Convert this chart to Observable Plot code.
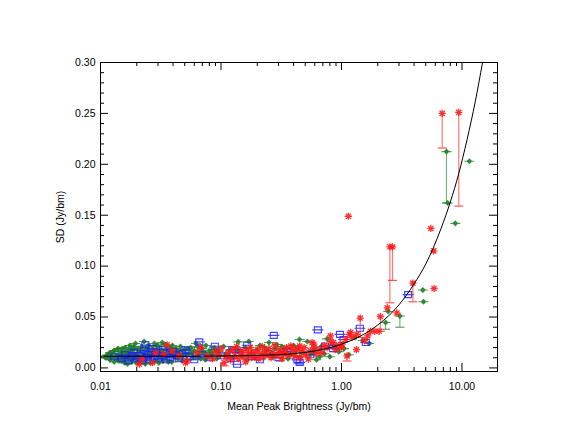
<!DOCTYPE html>
<html>
<head>
<meta charset="utf-8">
<script src="https://cdn.jsdelivr.net/npm/d3@7"></script>
<script src="https://cdn.jsdelivr.net/npm/@observablehq/plot@0.6"></script>
<style>
  html, body { margin: 0; padding: 0; background: #fff; }
  #chart svg { display: block; }
</style>
</head>
<body>
<div id="chart"></div>
<script>
// ---- tick values and labels ----
const xMajor = [0.01, 0.1, 1, 10];
const xLabels = ["0.01", "0.10", "1.00", "10.00"];
const xMinor = [0.02,0.03,0.04,0.05,0.06,0.07,0.08,0.09,
                0.2,0.3,0.4,0.5,0.6,0.7,0.8,0.9,
                2,3,4,5,6,7,8,9];
const yMajor = [0, 0.05, 0.10, 0.15, 0.20, 0.25, 0.30];
const yLabels = ["0.00","0.05","0.10","0.15","0.20","0.25","0.30"];
const yMinor = [0.01,0.02,0.03,0.04,0.06,0.07,0.08,0.09,0.11,0.12,0.13,0.14,
                0.16,0.17,0.18,0.19,0.21,0.22,0.23,0.24,0.26,0.27,0.28,0.29];

// ---- series: [mean peak brightness, SD] ----
const greenPts = [
  [0.0110,0.010],[0.0115,0.013],[0.012,0.008],[0.012,0.015],[0.0125,0.011],[0.013,0.006],[0.013,0.017],
  [0.0135,0.012],[0.014,0.009],[0.014,0.019],[0.0145,0.014],[0.015,0.007],[0.015,0.016],[0.0155,0.011],
  [0.016,0.020],[0.016,0.005],[0.0165,0.013],[0.017,0.009],[0.017,0.017],[0.0175,0.022],[0.018,0.012],
  [0.018,0.006],[0.0185,0.015],[0.019,0.010],[0.019,0.019],[0.0195,0.024],[0.020,0.008],[0.020,0.014],
  [0.021,0.017],[0.021,0.011],[0.022,0.021],[0.022,0.006],[0.023,0.013],[0.023,0.026],[0.024,0.009],
  [0.024,0.018],[0.025,0.015],[0.025,0.022],[0.026,0.011],[0.026,0.005],[0.027,0.019],[0.028,0.013],
  [0.028,0.024],[0.029,0.008],[0.030,0.016],[0.030,0.021],[0.031,0.011],[0.032,0.018],[0.033,0.007],
  [0.033,0.014],[0.034,0.023],[0.035,0.010],[0.036,0.017],[0.037,0.013],[0.038,0.020],[0.039,0.006],
  [0.040,0.015],[0.041,0.011],[0.042,0.019],[0.044,0.009],[0.045,0.016],[0.046,0.021],[0.048,0.012],
  [0.050,0.018],[0.052,0.008],[0.054,0.014],[0.056,0.020],[0.058,0.011],[0.060,0.017],[0.062,0.024],
  [0.065,0.013],[0.068,0.009],[0.070,0.019],[0.072,0.015],[0.075,0.022],[0.078,0.011],[0.080,0.017],
  [0.085,0.013],[0.088,0.020],[0.092,0.009],[0.095,0.016],[0.098,0.012],
  [0.0112,0.012],[0.0118,0.009],[0.0122,0.014],[0.0128,0.016],[0.0132,0.010],[0.0138,0.018],
  [0.0142,0.007],[0.0148,0.012],[0.0152,0.019],[0.0158,0.009],[0.0162,0.015],[0.0168,0.004],
  [0.0172,0.012],[0.0178,0.019],[0.0182,0.009],[0.0188,0.021],[0.0192,0.013],[0.0198,0.005],
  [0.0205,0.019],[0.0215,0.009],[0.0225,0.016],[0.0235,0.004],[0.0245,0.021],[0.0255,0.012],
  [0.0265,0.017],[0.0275,0.007],[0.0285,0.016],[0.0295,0.022],[0.0305,0.005],[0.0315,0.014],
  [0.0325,0.025],[0.0345,0.012],[0.0355,0.019],[0.0365,0.006],[0.0385,0.016],[0.0395,0.022],
  [0.0425,0.013],[0.0435,0.017],[0.0475,0.007],[0.0495,0.014],[0.053,0.019],[0.057,0.015],
  [0.061,0.010],[0.064,0.021],[0.069,0.016],[0.074,0.008],[0.082,0.015],[0.090,0.018],
  [0.105,0.021],[0.11,0.014],[0.12,0.018],[0.125,0.010],[0.139,0.0256],[0.14,0.016],[0.15,0.012],
  [0.16,0.020],[0.17,0.026],[0.18,0.015],[0.19,0.010],[0.20,0.018],[0.21,0.022],[0.22,0.013],
  [0.24,0.017],[0.25,0.025],[0.27,0.011],[0.28,0.019],[0.31,0.015],[0.32,0.021],[0.34,0.016],
  [0.36,0.009],[0.38,0.013],[0.40,0.022],[0.42,0.017],[0.448,0.028],[0.45,0.011],[0.48,0.015],
  [0.52,0.026],[0.55,0.013],[0.60,0.018],[0.62,0.008],[0.68,0.021],[0.72,0.014],[0.76,0.0285],
  [0.80,0.011],[0.85,0.023],[0.95,0.016],[1.05,0.019],[1.15,0.013],[1.3,0.030],[1.5,0.027],
  [0.115,0.012],[0.135,0.020],[0.165,0.008],[0.23,0.020],[0.26,0.014],[0.29,0.023],[0.35,0.019],
  [0.44,0.020],[0.58,0.015],[0.66,0.011],[0.9,0.020],
  [1.7,0.024],[2.32,0.0446],[2.44,0.0554],[3.05,0.051],[4.73,0.0765],[4.79,0.065],
  [7.43,0.2125],[7.6,0.162],[8.8,0.142],[11.5,0.203]
];
const bluePts = [
  [0.013,0.011],[0.015,0.009],[0.016,0.013],[0.017,0.007],[0.018,0.011],[0.019,0.015],[0.020,0.009],
  [0.021,0.012],[0.022,0.007],[0.023,0.017],[0.024,0.010],[0.0236,0.0226],[0.025,0.013],[0.026,0.008],
  [0.027,0.019],[0.028,0.011],[0.029,0.015],[0.030,0.009],[0.032,0.012],[0.033,0.018],[0.035,0.008],
  [0.036,0.014],[0.038,0.010],[0.040,0.016],[0.042,0.012],[0.045,0.009],[0.048,0.014],[0.0508,0.0177],
  [0.055,0.011],[0.060,0.008],[0.066,0.0256],[0.070,0.013],[0.080,0.010],[0.089,0.0213],[0.10,0.012],
  [0.12,0.009],[0.124,0.018],[0.136,0.0036],[0.14,0.015],[0.165,0.0223],[0.18,0.011],[0.21,0.008],
  [0.25,0.014],[0.274,0.032],[0.30,0.010],[0.35,0.016],[0.43,0.0079],[0.45,0.0055],[0.55,0.013],
  [0.636,0.0374],[0.73,0.0216],[0.85,0.019],[0.97,0.033],[1.04,0.028],[1.42,0.039],[1.59,0.025],
  [3.57,0.072]
];
const redPts = [
  [0.021,0.0036],[0.022,0.0086],[0.027,0.0052],[0.0286,0.015],[0.0335,0.0135],[0.0357,0.0226],
  [0.0393,0.0167],[0.0447,0.0118],[0.0508,0.0052],[0.0524,0.0069],[0.0634,0.015],[0.068,0.020],
  [0.077,0.0118],[0.085,0.009],[0.09,0.016],[0.095,0.013],[0.100,0.019],[0.106,0.0052],[0.11,0.011],
  [0.115,0.015],[0.12,0.008],[0.125,0.018],[0.13,0.012],[0.135,0.021],[0.14,0.009],[0.145,0.014],
  [0.15,0.017],[0.155,0.011],[0.16,0.006],[0.165,0.0167],[0.17,0.013],[0.175,0.020],[0.18,0.010],
  [0.185,0.015],[0.19,0.012],[0.20,0.018],[0.205,0.009],[0.21,0.014],[0.22,0.021],[0.225,0.011],
  [0.23,0.016],[0.24,0.013],[0.25,0.019],[0.26,0.010],[0.27,0.015],[0.28,0.022],[0.29,0.012],
  [0.30,0.015],[0.31,0.018],[0.32,0.009],[0.33,0.014],[0.34,0.015],[0.35,0.020],[0.36,0.012],
  [0.38,0.0216],[0.39,0.018],[0.40,0.014],[0.41,0.0118],[0.43,0.019],[0.45,0.0216],[0.45,0.010],
  [0.47,0.016],[0.49,0.020],[0.50,0.013],[0.53,0.0086],[0.55,0.017],[0.57,0.025],[0.59,0.0233],
  [0.59,0.020],[0.62,0.014],[0.65,0.018],[0.69,0.015],[0.72,0.022],[0.76,0.020],[0.81,0.0315],
  [0.81,0.026],[0.86,0.025],[0.89,0.018],[0.95,0.022],[1.0,0.020],[1.01,0.0233],[1.08,0.028],
  [1.11,0.0118],[1.16,0.033],[1.19,0.035],[1.22,0.030],[1.33,0.018],[1.34,0.033],[1.43,0.049],
  [1.55,0.0266],[1.65,0.0315],[1.74,0.036],[1.89,0.036],[2.05,0.036],[2.1,0.0505],[2.4,0.059],
  [2.88,0.054],[1.14,0.149],[2.52,0.119],[2.65,0.119],[3.91,0.0833],[5.51,0.137],[5.83,0.115],
  [5.86,0.078],[6.85,0.250],[9.4,0.251]
];

// ---- one-sided error bars: [x, top, bottom] ----
const greenErr = [[7.43,0.2125,0.162],[3.05,0.051,0.040],[0.31,0.015,0.0069],[0.0147,0.014,0.007],[2.32,0.0446,0.038]];
const blueErr  = [[0.45,0.0079,0.004]];
const redErr   = [[1.43,0.049,0.030],[2.1,0.0505,0.036],[1.11,0.0118,0.0068],[2.52,0.119,0.064],
                  [2.65,0.119,0.086],[3.91,0.0833,0.065],[6.85,0.250,0.216],[9.4,0.251,0.159],
                  [0.106,0.0052,0.002]];

// ---- fitted curve ----
const fitX = [0.01,0.05,0.1,0.2,0.3,0.5,0.7,1,1.5,2,3,4,5,6.7,8,9.4,11,12.9,14.8];
const fitY = [0.0115,0.0115,0.0117,0.0123,0.0130,0.0153,0.0182,0.0233,0.0325,0.0422,0.0620,0.0825,
              0.102,0.137,0.163,0.191,0.224,0.262,0.300];

// ---- rendering ----
const W = 572, H = 442, mL = 100, mR = 75, mT = 62, mB = 71;
const innerW = W - mL - mR, innerH = H - mT - mB;
const GREEN = "#23802a", BLUE = "#1f1fff", RED = "#ff1a1a";

const capSym = {draw(c){ c.moveTo(-4.5,0); c.lineTo(4.5,0); }};
const greenSym = {draw(c){ c.moveTo(-5,0); c.lineTo(5,0);
  c.moveTo(0,-2.3); c.lineTo(2.3,0); c.lineTo(0,2.3); c.lineTo(-2.3,0); c.closePath(); }};
const blueSym = {draw(c){ c.rect(-3.5,-3,7,6); c.moveTo(-5.5,0); c.lineTo(5.5,0); }};
const redSym = {draw(c){ const r = 3.6, d = 2.6;
  c.moveTo(-r,0); c.lineTo(r,0); c.moveTo(0,-r); c.lineTo(0,r);
  c.moveTo(-d,-d); c.lineTo(d,d); c.moveTo(-d,d); c.lineTo(d,-d); }};

const fit = fitX.map((x, i) => ({x, y: fitY[i]}));
const toObj = p => ({x: p[0], y: p[1]});
const toErr = e => ({x: e[0], top: e[1], bottom: e[2]});

function errMarks(errs, color) {
  const data = errs.map(toErr);
  return [
    Plot.ruleX(data, {x: "x", y1: "bottom", y2: "top", stroke: color, strokeOpacity: 0.6, strokeWidth: 1.2}),
    Plot.dot(data, {x: "x", y: "bottom", symbol: capSym, stroke: color, strokeOpacity: 0.75, fill: "none", strokeWidth: 1.2})
  ];
}

const tickStyle = {stroke: "black", strokeWidth: 1};
const chart = Plot.plot({
  width: W, height: H,
  marginLeft: mL, marginRight: mR, marginTop: mT, marginBottom: mB,
  style: {fontFamily: "'Liberation Sans', Arial, Helvetica, sans-serif", fontSize: "10.5px", color: "black", background: "white"},
  x: {type: "log", domain: [0.01, 19.7]},
  y: {domain: [-0.0035, 0.30]},
  marks: [
    // inward ticks on all four sides
    Plot.tickX(xMajor, {x: d => d, insetTop: innerH - 8, ...tickStyle}),
    Plot.tickX(xMajor, {x: d => d, insetBottom: innerH - 8, ...tickStyle}),
    Plot.tickX(xMinor, {x: d => d, insetTop: innerH - 4, ...tickStyle}),
    Plot.tickX(xMinor, {x: d => d, insetBottom: innerH - 4, ...tickStyle}),
    Plot.tickY(yMajor, {y: d => d, insetRight: innerW - 8, ...tickStyle}),
    Plot.tickY(yMajor, {y: d => d, insetLeft: innerW - 8, ...tickStyle}),
    Plot.tickY(yMinor, {y: d => d, insetRight: innerW - 4, ...tickStyle}),
    Plot.tickY(yMinor, {y: d => d, insetLeft: innerW - 4, ...tickStyle}),
    // tick labels and titles
    Plot.axisX({ticks: xMajor, tickSize: 0, tickPadding: 11,
      tickFormat: d => xLabels[xMajor.indexOf(d)],
      label: "Mean Peak Brightness (Jy/bm)", labelAnchor: "center", labelOffset: 38, labelArrow: "none"}),
    Plot.axisY({ticks: yMajor, tickSize: 0, tickPadding: 5,
      tickFormat: d => yLabels[yMajor.findIndex(v => Math.abs(v - d) < 1e-9)],
      label: "SD (Jy/bm)", labelAnchor: "center", labelOffset: 44, labelArrow: "none"}),
    // green series
    ...errMarks(greenErr, GREEN),
    Plot.dot(greenPts.map(toObj), {x: "x", y: "y", symbol: greenSym, fill: GREEN, stroke: GREEN, fillOpacity: 0.85, strokeOpacity: 0.8, strokeWidth: 1.1, clip: true}),
    // blue series
    ...errMarks(blueErr, BLUE),
    Plot.dot(bluePts.map(toObj), {x: "x", y: "y", symbol: blueSym, fill: "none", stroke: BLUE, strokeOpacity: 0.85, strokeWidth: 1.1, clip: true}),
    // red series
    ...errMarks(redErr, RED),
    Plot.dot(redPts.map(toObj), {x: "x", y: "y", symbol: redSym, fill: "none", stroke: RED, strokeOpacity: 0.9, strokeWidth: 1.3, clip: true}),
    // fit curve
    Plot.line(fit, {x: "x", y: "y", curve: "monotone-x", stroke: "black", strokeWidth: 1, clip: true}),
    Plot.frame({stroke: "black", strokeWidth: 1})
  ]
});
document.getElementById("chart").appendChild(chart);
</script>
</body>
</html>
